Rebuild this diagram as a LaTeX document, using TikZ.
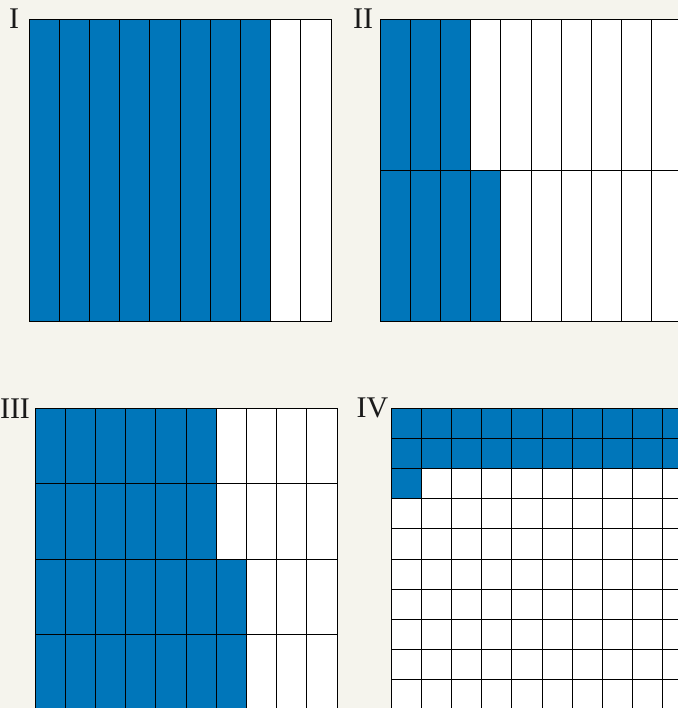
\documentclass[tikz,border=0pt]{standalone}
\usepackage{fontspec}
\setmainfont{Liberation Serif}
\definecolor{fillblue}{HTML}{0076BA}
\definecolor{bgcream}{HTML}{F5F4ED}
\definecolor{inkgray}{HTML}{1A1A1A}
\tikzset{
  cell/.style={draw=black, line width=0.75pt},
  panellabel/.style={text=inkgray, inner sep=0pt, font=\fontsize{22.5}{27}\selectfont}
}
\begin{document}
\begin{tikzpicture}[x=0.75pt, y=-0.75pt]

% Background
\useasboundingbox (0,0) rectangle (678,708);
\fill[bgcream] (0,0) rectangle (678,708);
\clip (0,0) rectangle (678,708);

% --- Panel I: 10 columns, 8 shaded ---
\foreach \c in {0,...,9} {
  \ifnum\c<8 \def\cellfill{fillblue}\else\def\cellfill{white}\fi
  \draw[cell, fill=\cellfill] ({29+\c*30.2},19) rectangle ++(30.2,302);
}
\node[panellabel] (labI) at (14,19) {I};

% --- Panel II: 2 rows of 10 columns ---
\foreach \r/\n in {0/3, 1/4} {
  \foreach \c in {0,...,9} {
    \ifnum\c<\n \def\cellfill{fillblue}\else\def\cellfill{white}\fi
    \draw[cell, fill=\cellfill] ({380+\c*30.2},{19+\r*151}) rectangle ++(30.2,151);
  }
}
\node[panellabel] (labII) at (363,19) {II};

% --- Panel III: 4 rows of 10 columns ---
\foreach \r/\n in {0/6, 1/6, 2/7, 3/7} {
  \foreach \c in {0,...,9} {
    \ifnum\c<\n \def\cellfill{fillblue}\else\def\cellfill{white}\fi
    \draw[cell, fill=\cellfill] ({35+\c*30.2},{408+\r*75.5}) rectangle ++(30.2,75.5);
  }
}
\node[panellabel] (labIII) at (15,408.5) {III};

% --- Panel IV: 10 x 10 squares ---
\foreach \r/\n in {0/10, 1/10, 2/1, 3/0, 4/0, 5/0, 6/0, 7/0, 8/0, 9/0} {
  \foreach \c in {0,...,9} {
    \ifnum\c<\n \def\cellfill{fillblue}\else\def\cellfill{white}\fi
    \draw[cell, fill=\cellfill] ({391+\c*30.2},{408+\r*30.2}) rectangle ++(30.2,30.2);
  }
}
\node[panellabel] (labIV) at (372.5,408) {IV};

\end{tikzpicture}
\end{document}
